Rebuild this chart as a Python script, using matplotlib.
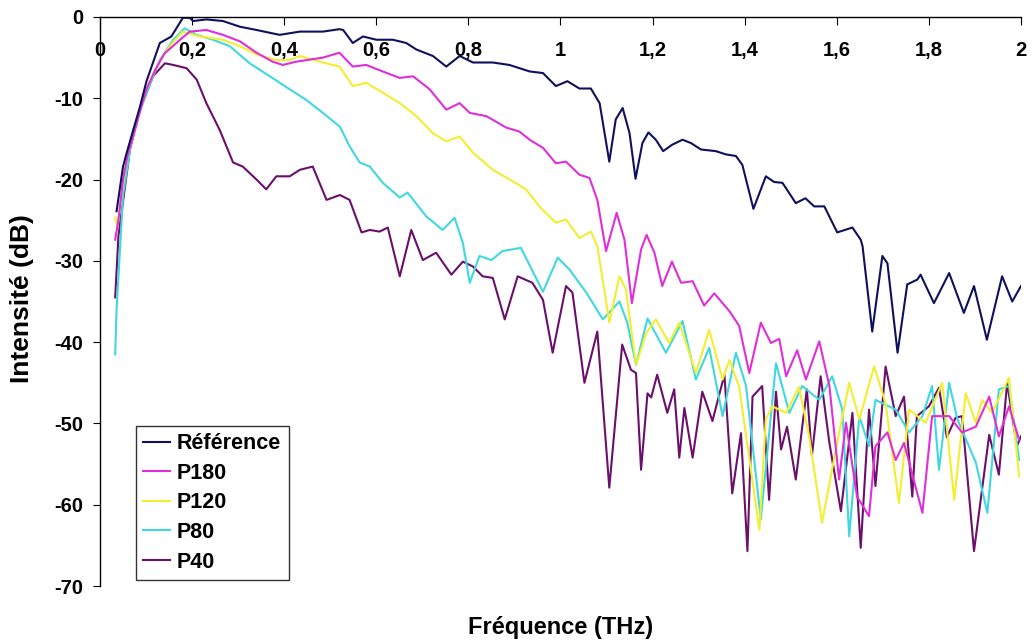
import matplotlib
matplotlib.use("Agg")
import matplotlib.pyplot as plt

plt.rcParams['font.family'] = ['Liberation Sans', 'DejaVu Sans']
plt.rcParams['font.weight'] = 'bold'

# ---------------- data ----------------
ref_x = [0.036, 0.05, 0.058, 0.087, 0.101, 0.13, 0.155, 0.18, 0.195, 0.202, 0.231, 0.267, 0.304, 0.34,
         0.39, 0.434, 0.484, 0.52, 0.528, 0.549, 0.571, 0.6, 0.636, 0.665, 0.687, 0.723, 0.752, 0.781,
         0.81, 0.853, 0.889, 0.933, 0.962, 0.99, 1.015, 1.041, 1.066, 1.085, 1.106, 1.12, 1.135, 1.15,
         1.163, 1.178, 1.191, 1.207, 1.223, 1.243, 1.265, 1.283, 1.305, 1.337, 1.359, 1.381, 1.395,
         1.419, 1.446, 1.464, 1.482, 1.511, 1.532, 1.551, 1.573, 1.601, 1.634, 1.652, 1.656, 1.677,
         1.699, 1.71, 1.732, 1.753, 1.775, 1.782, 1.811, 1.844, 1.876, 1.898, 1.926, 1.959, 1.981, 2.0]
ref_y = [-23.9, -18.4, -16.7, -11.0, -7.9, -3.2, -2.4, -0.1, -0.1, -0.5, -0.3, -0.5, -1.2, -1.6,
         -2.2, -1.8, -1.8, -1.5, -1.6, -3.2, -2.4, -2.8, -2.8, -3.2, -4.0, -4.8, -6.1, -4.8,
         -5.6, -5.6, -5.9, -6.7, -6.9, -8.5, -7.9, -8.8, -8.8, -10.6, -17.8, -12.6, -11.2, -14.3,
         -19.9, -15.5, -14.2, -15.1, -16.5, -15.7, -15.1, -15.5, -16.3, -16.5, -16.9, -17.1, -18.2,
         -23.6, -19.6, -20.3, -20.4, -22.9, -22.3, -23.3, -23.3, -26.5, -25.9, -27.4, -28.2, -38.7,
         -29.4, -30.3, -41.3, -32.9, -32.3, -31.7, -35.2, -31.5, -36.4, -33.1, -39.7, -31.9, -35.0, -33.1]

p180_x = [0.033, 0.04, 0.05, 0.06, 0.075, 0.09, 0.1, 0.12, 0.14, 0.16, 0.18, 0.195, 0.231, 0.267,
          0.304, 0.34, 0.375, 0.397, 0.426, 0.484, 0.52, 0.549, 0.578, 0.614, 0.651, 0.68, 0.716,
          0.752, 0.781, 0.803, 0.839, 0.882, 0.911, 0.933, 0.962, 0.99, 1.012, 1.041, 1.063, 1.08,
          1.099, 1.122, 1.139, 1.155, 1.175, 1.187, 1.204, 1.221, 1.242, 1.262, 1.287, 1.312, 1.334,
          1.367, 1.388, 1.41, 1.435, 1.457, 1.475, 1.49, 1.514, 1.533, 1.562, 1.584, 1.605, 1.62,
          1.644, 1.67, 1.684, 1.71, 1.728, 1.746, 1.786, 1.807, 1.844, 1.872, 1.902, 1.931, 1.952,
          1.974, 1.996]
p180_y = [-27.4, -25.0, -20.0, -17.0, -14.0, -11.0, -9.0, -6.5, -4.5, -3.5, -2.5, -1.8, -1.6, -2.2,
          -3.0, -4.4, -5.5, -5.9, -5.5, -5.0, -4.4, -6.1, -5.9, -6.7, -7.5, -7.3, -8.9,
          -11.4, -10.6, -11.8, -12.2, -13.6, -14.1, -15.1, -16.1, -18.0, -17.8, -19.4, -19.8, -22.5,
          -28.8, -24.1, -27.4, -35.2, -28.6, -26.8, -29.0, -33.1, -30.1, -32.7, -32.5, -35.5, -34.0,
          -36.2, -38.0, -43.8, -37.6, -40.1, -39.6, -44.2, -41.0, -44.6, -39.9, -45.4, -56.9, -49.9,
          -59.0, -61.4, -52.8, -51.1, -54.5, -52.4, -61.0, -49.1, -49.1, -51.1, -50.4, -46.7, -51.6,
          -47.9, -52.0]

p120_x = [0.033, 0.038, 0.05, 0.06, 0.075, 0.09, 0.1, 0.12, 0.14, 0.16, 0.18, 0.217, 0.267, 0.304,
          0.34, 0.383, 0.412, 0.434, 0.484, 0.52, 0.549, 0.578, 0.614, 0.651, 0.687, 0.723, 0.752,
          0.781, 0.81, 0.853, 0.89, 0.925, 0.954, 0.99, 1.012, 1.041, 1.066, 1.08, 1.095, 1.106,
          1.128, 1.142, 1.164, 1.186, 1.207, 1.236, 1.258, 1.294, 1.323, 1.352, 1.367, 1.388, 1.432,
          1.446, 1.46, 1.49, 1.518, 1.54, 1.568, 1.598, 1.627, 1.649, 1.681, 1.706, 1.735, 1.757,
          1.793, 1.829, 1.855, 1.88, 1.902, 1.916, 1.937, 1.974, 1.996]
p120_y = [-24.7, -25.7, -20.5, -17.0, -14.0, -11.0, -9.0, -6.5, -4.5, -3.0, -1.8, -2.4, -2.8, -3.6,
          -4.6, -5.3, -5.3, -4.8, -5.6, -6.1, -8.5, -8.1, -9.3, -10.6, -12.2, -14.3, -15.3,
          -14.7, -16.7, -18.8, -20.0, -21.2, -23.3, -25.3, -24.9, -27.2, -26.4, -28.2, -33.5, -37.6,
          -31.9, -33.5, -42.8, -38.9, -37.2, -40.1, -37.6, -43.8, -38.5, -44.6, -42.2, -45.5, -63.1,
          -49.5, -47.9, -48.7, -45.5, -51.6, -62.2, -53.2, -45.0, -49.5, -43.0, -47.5, -59.8, -48.3,
          -49.9, -45.0, -59.4, -46.3, -49.9, -47.1, -48.7, -44.4, -56.5]

p80_x = [0.033, 0.036, 0.05, 0.072, 0.101, 0.13, 0.159, 0.184, 0.21, 0.245, 0.282, 0.325, 0.369,
         0.412, 0.448, 0.484, 0.521, 0.542, 0.564, 0.586, 0.614, 0.651, 0.668, 0.708, 0.744, 0.77,
         0.788, 0.803, 0.824, 0.85, 0.874, 0.914, 0.962, 0.994, 1.02, 1.056, 1.092, 1.128, 1.145,
         1.164, 1.189, 1.229, 1.265, 1.294, 1.323, 1.352, 1.381, 1.403, 1.435, 1.468, 1.497, 1.525,
         1.562, 1.59, 1.612, 1.627, 1.649, 1.67, 1.684, 1.728, 1.757, 1.786, 1.807, 1.822, 1.844,
         1.862, 1.902, 1.927, 1.952, 1.974, 1.996]
p80_y = [-41.5, -36.0, -22.0, -13.9, -9.3, -5.3, -2.8, -1.4, -2.2, -2.8, -3.6, -5.7, -7.3,
         -8.9, -10.2, -11.8, -13.5, -15.9, -17.9, -18.4, -20.4, -22.2, -21.6, -24.5, -26.2, -24.7,
         -27.8, -32.7, -29.4, -29.9, -28.8, -28.4, -33.8, -29.6, -31.1, -33.9, -37.2, -35.0, -37.6,
         -42.8, -37.1, -41.3, -37.4, -44.6, -40.7, -49.1, -41.3, -45.4, -61.8, -42.6, -48.7, -45.4,
         -47.1, -44.2, -48.3, -63.9, -49.1, -52.8, -47.1, -48.3, -51.1, -49.1, -45.4, -55.7, -45.0,
         -49.5, -54.8, -61.0, -45.8, -45.4, -54.5]

p40_x = [0.033, 0.04, 0.065, 0.087, 0.115, 0.141, 0.159, 0.188, 0.21, 0.231, 0.26, 0.289, 0.31,
         0.34, 0.361, 0.383, 0.412, 0.434, 0.462, 0.492, 0.521, 0.542, 0.568, 0.586, 0.607, 0.625,
         0.651, 0.676, 0.701, 0.73, 0.763, 0.788, 0.81, 0.831, 0.853, 0.879, 0.907, 0.939, 0.962,
         0.983, 1.012, 1.026, 1.052, 1.08, 1.106, 1.134, 1.153, 1.164, 1.175, 1.189, 1.197, 1.21,
         1.232, 1.247, 1.258, 1.269, 1.287, 1.308, 1.33, 1.356, 1.373, 1.392, 1.406, 1.417, 1.438,
         1.453, 1.468, 1.479, 1.492, 1.511, 1.535, 1.546, 1.565, 1.584, 1.609, 1.634, 1.652, 1.67,
         1.684, 1.706, 1.728, 1.746, 1.764, 1.774, 1.8, 1.822, 1.839, 1.858, 1.872, 1.898, 1.931,
         1.952, 1.97, 1.991, 2.0]
p40_y = [-34.5, -27.0, -16.3, -11.4, -7.3, -5.7, -5.9, -6.3, -7.7, -10.6, -13.9, -17.9, -18.4,
         -20.0, -21.2, -19.6, -19.6, -18.8, -18.4, -22.5, -21.9, -22.5, -26.5, -26.2, -26.4, -25.9,
         -31.9, -26.2, -29.9, -29.0, -31.7, -30.1, -30.7, -31.9, -32.1, -37.2, -31.9, -32.7, -34.8,
         -41.3, -33.1, -33.9, -45.0, -38.7, -57.9, -40.3, -43.4, -43.8, -55.7, -46.3, -46.8, -44.0,
         -48.7, -45.8, -54.2, -48.1, -54.2, -46.1, -49.7, -44.0, -58.6, -51.2, -65.7, -46.7, -45.4,
         -59.4, -46.1, -53.2, -50.4, -56.9, -45.8, -54.0, -44.2, -52.4, -60.8, -48.7, -65.3, -48.3,
         -57.7, -43.0, -49.1, -46.7, -59.0, -49.1, -47.9, -45.6, -51.7, -49.3, -49.1, -65.7, -51.4,
         -56.3, -45.0, -52.8, -51.6]

labels = ['Référence', 'P180', 'P120', 'P80', 'P40']
colors = ['#10105c', '#e02ed8', '#f2ee30', '#3fd8e0', '#6a106a']

x_ticks = [0, 0.2, 0.4, 0.6, 0.8, 1, 1.2, 1.4, 1.6, 1.8, 2]
x_ticklabels = ['0', '0,2', '0,4', '0,6', '0,8', '1', '1,2', '1,4', '1,6', '1,8', '2']
y_ticks = [0, -10, -20, -30, -40, -50, -60, -70]
y_ticklabels = ['0', '-10', '-20', '-30', '-40', '-50', '-60', '-70']

# ---------------- figure ----------------
fig = plt.figure(figsize=(10.34, 6.43), dpi=100)
ax = fig.add_axes([0.0967, 0.0886, 0.8907, 0.885])

series = [(ref_x, ref_y), (p180_x, p180_y), (p120_x, p120_y), (p80_x, p80_y), (p40_x, p40_y)]
handles = {}
for i in [4, 3, 2, 1, 0]:
    xs, ys = series[i]
    h, = ax.plot(xs, ys, color=colors[i], lw=1.5, label=labels[i],
                 solid_joinstyle='round', zorder=2 + (4 - i) * 0.1)
    handles[i] = h

ax.set_xlim(0, 2)
ax.set_ylim(-70, 0)

for s in ['right', 'bottom']:
    ax.spines[s].set_visible(False)
for s in ['left', 'top']:
    ax.spines[s].set_linewidth(1.0)

ax.xaxis.tick_top()
ax.set_xticks(x_ticks)
ax.set_xticklabels(x_ticklabels, fontsize=14.5, fontweight='bold')
ax.tick_params(axis='x', direction='in', length=5.5, pad=-31)
ax.set_yticks(y_ticks)
ax.set_yticklabels(y_ticklabels, fontsize=14.5, fontweight='bold')
ax.tick_params(axis='y', direction='out', length=5, pad=7)

ax.xaxis.set_label_position('bottom')
ax.set_xlabel('Fréquence (THz)', fontsize=17, fontweight='bold')
ax.xaxis.set_label_coords(0.5005, -0.052)
ax.set_ylabel('Intensité (dB)', fontsize=19, fontweight='bold')
ax.yaxis.set_label_coords(-0.072, 0.505)

leg = ax.legend([handles[i] for i in range(5)], labels, loc='lower left',
                bbox_to_anchor=(0.039, 0.0105), frameon=True, fancybox=False,
                edgecolor='black', fontsize=15.5, handlelength=1.25, handletextpad=0.3,
                labelspacing=0.4, borderpad=0.35, borderaxespad=0)
leg.get_frame().set_linewidth(1.0)
for t in leg.get_texts():
    t.set_fontweight('bold')

fig.savefig('out.png', dpi=100, facecolor='white')
